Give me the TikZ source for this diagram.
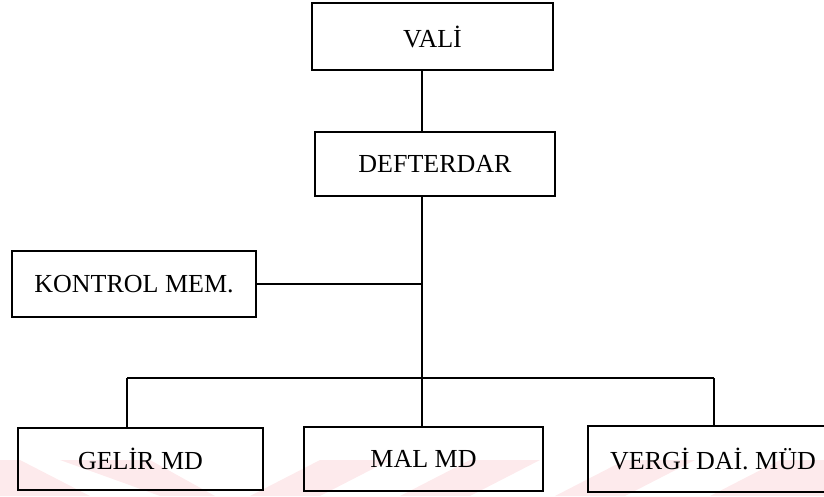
\documentclass[tikz,border=0pt]{standalone}
\usepackage{fontspec}
\setmainfont{Liberation Serif}
\definecolor{wm}{RGB}{253,234,236}
\begin{document}
\begin{tikzpicture}[x=0.75pt,y=-0.75pt,
  box/.style={draw=black, line width=1.5pt, inner sep=0pt, font=\fontsize{19.5}{21}\selectfont},
  conn/.style={draw=black, line width=1.5pt},
  wmark/.style={fill=wm, draw=none}]
\useasboundingbox (0,0) rectangle (824,496);
\begin{scope}
\clip (0,0) rectangle (824,496);
% faint watermark stripes
\fill[wmark] (0,460) -- (20,460) -- (90,496) -- (0,496) -- cycle;
\fill[wmark] (60,460) -- (150,460) -- (215,496) -- (160,496) -- cycle;
\fill[wmark] (250,496) -- (320,460) -- (390,460) -- (320,496) -- cycle;
\fill[wmark] (400,496) -- (470,460) -- (540,460) -- (470,496) -- cycle;
\fill[wmark] (555,496) -- (625,460) -- (695,460) -- (625,496) -- cycle;
\fill[wmark] (710,496) -- (780,460) -- (824,460) -- (824,496) -- cycle;
% nodes
\node[box, minimum width=241*0.75pt, minimum height=67*0.75pt] (vali) at (432.5,36.5) {VALİ};
\node[box, minimum width=240*0.75pt, minimum height=64*0.75pt] (def) at (435,164) {DEFTERDAR};
\node[box, minimum width=244*0.75pt, minimum height=66*0.75pt] (kon) at (134,284) {KONTROL MEM.};
\node[box, minimum width=245*0.75pt, minimum height=62*0.75pt] (gel) at (140.5,459) {GELİR MD};
\node[box, minimum width=239*0.75pt, minimum height=64*0.75pt] (mal) at (423.5,459) {MAL MD};
\node[box, minimum width=250*0.75pt, minimum height=66*0.75pt] (ver) at (713,459) {VERGİ DAİ. MÜD};
% connectors
\coordinate (trunk) at (422,196);
\coordinate (bj) at (422,378);
\coordinate (bl) at (127,378);
\coordinate (br) at (714,378);
\draw[conn] (vali.south -| trunk) -- (def.north -| trunk);
\draw[conn] (def.south -| trunk) -- (bj);
\draw[conn] (kon.east) -- (kon.east -| trunk);
\draw[conn] (bl) -- (br);
\draw[conn] (bl) -- (bl |- gel.north);
\draw[conn] (bj) -- (bj |- mal.north);
\draw[conn] (br) -- (br |- ver.north);
\end{scope}
\end{tikzpicture}
\end{document}
